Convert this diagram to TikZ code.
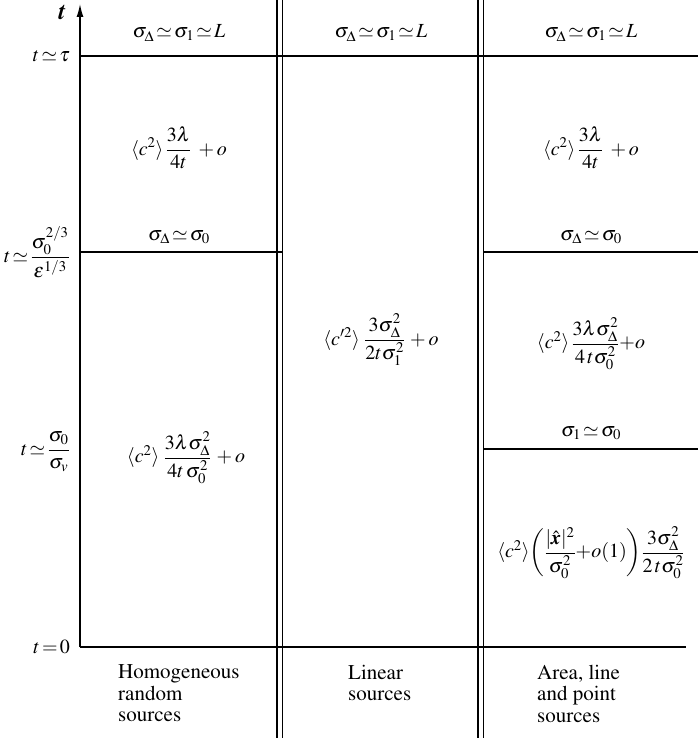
\documentclass[tikz,border=0pt]{standalone}
\usepackage{amsmath}
\usepackage[T1]{fontenc}
\usepackage{mathptmx}
\usetikzlibrary{arrows.meta}
\begin{document}
\begin{tikzpicture}[x=1pt,y=-1pt,
  rule/.style={line width=1.4pt},
  lbl/.style={inner sep=0pt, font=\fontsize{20}{21}\selectfont},
  axlbl/.style={lbl, anchor=east},
  foot/.style={inner sep=0pt, anchor=north west, align=left, font=\fontsize{21}{21.5}\selectfont}]
\useasboundingbox (0,0) rectangle (698,738);
% coordinates
\coordinate (ax0) at (80,647);
\coordinate (axT) at (80,4);
\coordinate (tauL) at (80,56);   \coordinate (tauR) at (698,56);
\coordinate (z0L) at (80,647);   \coordinate (z0R) at (686,647);
\coordinate (aL) at (80,252);    \coordinate (aR) at (282,252);
\coordinate (bL) at (483,252);   \coordinate (bR) at (698,252);
\coordinate (cL) at (483,449);   \coordinate (cR) at (698,449);
\coordinate (d1a) at (277,0);  \coordinate (d1b) at (277,738);
\coordinate (d2a) at (282.5,0);  \coordinate (d2b) at (282.5,738);
\coordinate (d3a) at (478,0);  \coordinate (d3b) at (478,738);
\coordinate (d4a) at (483.5,0);  \coordinate (d4b) at (483.5,738);
% lines
\draw[rule] (d1a) -- (d1b);
\draw[rule] (d2a) -- (d2b);
\draw[rule] (d3a) -- (d3b);
\draw[rule] (d4a) -- (d4b);
\draw[rule] (tauL) -- (tauR);
\draw[rule] (z0L) -- (z0R);
\draw[rule] (aL) -- (aR);
\draw[rule] (bL) -- (bR);
\draw[rule] (cL) -- (cR);
\draw[rule, -{Latex[length=13pt,width=7pt]}] (ax0) -- (axT);
% axis labels
\node[inner sep=0pt, font=\fontsize{24}{24}\selectfont\bfseries\itshape] (tlab) at (62,13) {t};
\node[axlbl] (l1) at (70,56) {$t\!\simeq\!\tau$};
\node[axlbl] (l2) at (70,252) {$t\!\simeq\!\dfrac{\sigma_0^{2/3}}{\varepsilon^{1/3}}$};
\node[axlbl] (l3) at (70,452) {$t\!\simeq\!\dfrac{\sigma_0}{\sigma_v}$};
\node[axlbl] (l4) at (70,647) {$t\!=\!0$};
% top row
\node[lbl] (top1) at (179,33) {$\sigma_\Delta\!\simeq\!\sigma_1\!\simeq\!L$};
\node[lbl] (top2) at (381,33) {$\sigma_\Delta\!\simeq\!\sigma_1\!\simeq\!L$};
\node[lbl] (top3) at (591,33) {$\sigma_\Delta\!\simeq\!\sigma_1\!\simeq\!L$};
% second row
\node[lbl] (r1) at (179,148) {$\langle c^2\rangle\,\dfrac{3\lambda}{4t}\;+o$};
\node[lbl] (r3) at (591,148) {$\langle c^2\rangle\,\dfrac{3\lambda}{4t}\;+o$};
\node[lbl] (s1) at (179,237) {$\sigma_\Delta\!\simeq\!\sigma_0$};
\node[lbl] (s3) at (591,237) {$\sigma_\Delta\!\simeq\!\sigma_0$};
% lower
\node[lbl] (hom) at (186,458) {$\langle c^2\rangle\;\dfrac{3\lambda\sigma_\Delta^2}{4t\,\sigma_0^2}\,+o$};
\node[lbl] (lin) at (381,340) {$\langle c'^2\rangle\;\dfrac{3\sigma_\Delta^2}{2t\sigma_1^2}\,+o$};
\node[lbl] (are) at (591,344) {$\langle c^2\rangle\,\dfrac{3\lambda\sigma_\Delta^2}{4\,t\sigma_0^2}{+}o$};
\node[lbl] (s4) at (591,433) {$\sigma_1\!\simeq\!\sigma_0$};
\node[lbl] (pt) at (591,553) {$\langle c^2\rangle\!\left(\dfrac{|\hat{\text{\bfseries\itshape x}}|^2}{\sigma_0^2}{+}o(1)\right)\!\dfrac{3\sigma_\Delta^2}{2\,t\sigma_0^2}$};
% footers
\node[foot] (f1) at (118,665) {Homogeneous\\random\\sources};
\node[foot] (f2) at (348,665) {Linear\\sources};
\node[foot] (f3) at (537,665) {Area, line\\and point\\sources};
\end{tikzpicture}
\end{document}
